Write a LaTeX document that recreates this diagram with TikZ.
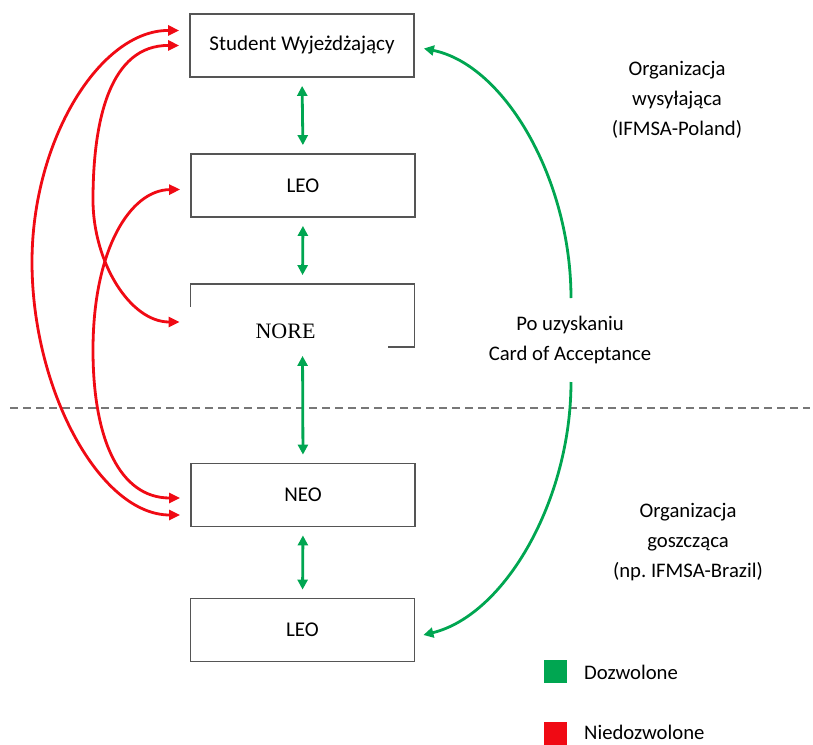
\documentclass[tikz,border=0pt]{standalone}
\usepackage{fontspec}
\setmainfont{Carlito}
\newfontfamily\serifnore{Liberation Serif}
\usetikzlibrary{arrows.meta,calc}
\definecolor{okgreen}{HTML}{00A651}
\definecolor{nored}{HTML}{F00A14}
\definecolor{boxgray}{HTML}{555555}
\definecolor{dashgray}{HTML}{777777}
\frenchspacing
\begin{document}
\begin{tikzpicture}[x=1pt,y=-1pt,
  box/.style={draw=boxgray, line width=1.8pt, minimum width=224pt, minimum height=63pt, inner sep=0pt, font=\fontsize{21}{25}\selectfont},
  lbl/.style={align=center, font=\fontsize{20.7}{30}\selectfont, inner sep=0pt},
  greenlink/.style={draw=okgreen, line width=2.8pt, {Triangle[length=10pt,width=10pt]}-{Triangle[length=10pt,width=10pt]}, shorten <=8pt, shorten >=8pt},
  greencurve/.style={draw=okgreen, line width=2.8pt, -{Triangle[length=10pt,width=10pt]}},
  redcurve/.style={draw=nored, line width=2.8pt, {Triangle[length=11pt,width=10pt]}-{Triangle[length=11pt,width=10pt]}},
  divider/.style={draw=dashgray, line width=2pt, dash pattern=on 8pt off 5pt},
  legsq/.style={minimum size=23pt, inner sep=0pt},
]
\useasboundingbox (0,0) rectangle (813,744);

% boxes
\node[box] (student) at (302,45.5) {Student Wyjeżdżający};
\node[box] (leoa) at (303,185.5) {LEO};
\node[box] (nore) at (302.5,315.5) {};
\node[box] (neo) at (303,495) {NEO};
\node[box] (leob) at (302.5,630) {LEO};

% NORE white patch and text
\fill[white] (183,306.5) rectangle (388,350.5);
\node[inner sep=0pt, font=\serifnore\fontsize{22}{26}\selectfont] (noretxt) at (285.5,331) {NORE};

% divider
\draw[divider] (10,408) -- (810,408);

% green vertical links
\draw[greenlink] (student.south) -- (leoa.north);
\draw[greenlink] (leoa.south) -- (nore.north);
\draw[greenlink] (nore.south) -- (neo.north);
\draw[greenlink] (neo.south) -- (leob.north);

% label between green curves
\node[lbl] (poa) at (570,340) {Po uzyskaniu\\Card of Acceptance};
\coordinate (ga) at (571,298);
\coordinate (gb) at (571,382);
\draw[greencurve] (ga) .. controls (571,180) and (505,65) .. ($(student.east)+(9,3)$);
\draw[greencurve] (gb) .. controls (571,500) and (505,615) .. ($(leob.east)+(8,5)$);

% red curves
\draw[redcurve] ($(student.west)+(-10,-15)$) .. controls (100,30) and (32,140) .. (32,262)
   .. controls (32,390) and (100,515) .. ($(neo.west)+(-10,20)$);
\draw[redcurve] ($(student.west)+(-10,0)$) .. controls (110,45) and (93,120) .. (93,200)
   .. controls (93,262) and (130,322) .. ($(nore.west)+(-10,6.5)$);
\draw[redcurve] ($(leoa.west)+(-10,4)$) .. controls (130,190) and (93,250) .. (93,350)
   .. controls (93,440) and (120,498) .. ($(neo.west)+(-10,3)$);

% organisation labels
\node[lbl] (orgsend) at (677,100) {Organizacja\\wysyłająca\\(IFMSA-Poland)};
\node[lbl] (orghost) at (688,542) {Organizacja\\goszcząca\\(np. IFMSA-Brazil)};

% legend
\node[legsq, fill=okgreen] (leggreen) at (555,671.5) {};
\node[anchor=west, inner sep=0pt, font=\fontsize{20.7}{24}\selectfont] (legok) at (584,672) {Dozwolone};
\node[legsq, fill=nored] (legred) at (555,733.5) {};
\node[anchor=west, inner sep=0pt, font=\fontsize{20.7}{24}\selectfont] (legno) at (584,732) {Niedozwolone};
\end{tikzpicture}
\end{document}
